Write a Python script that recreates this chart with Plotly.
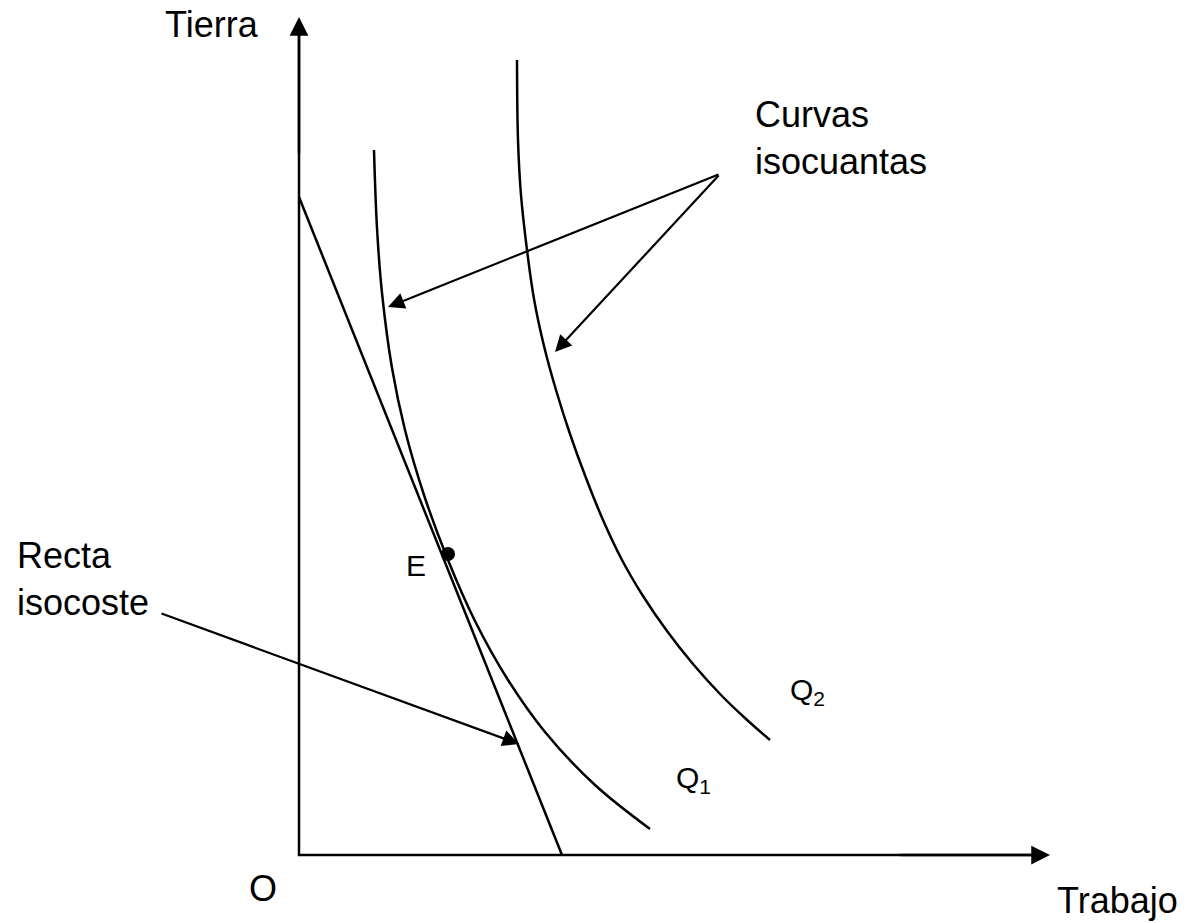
import plotly.graph_objects as go

q1_x = [75, 78, 83, 93, 106, 125, 149, 176, 209, 246, 296, 351]
q1_y = [705, 627, 562, 487, 425, 360, 295, 234, 175, 123, 70, 26]

q2_x = [218, 219, 222, 228, 235, 245, 257, 271, 287, 304, 323, 344, 368, 394, 422, 447, 471]
q2_y = [795, 715, 660, 605, 556, 509, 465, 421, 377, 335, 295, 259, 224, 191, 160, 136, 115]

iso_x = [0, 263]
iso_y = [658, 0]

e_x = [149]
e_y = [301]

axis_end_x = 751
axis_end_y = 838

FONT = "Liberation Sans, Arial, sans-serif"
LW = 2.5

fig = go.Figure()

fig.add_trace(go.Scatter(x=[0, 0, axis_end_x - 10], y=[axis_end_y - 10, 0, 0], mode="lines",
                         line=dict(color="black", width=LW), hoverinfo="skip"))
fig.add_trace(go.Scatter(x=q1_x, y=q1_y, mode="lines",
                         line=dict(color="black", width=LW, shape="spline", smoothing=1.0), hoverinfo="skip"))
fig.add_trace(go.Scatter(x=q2_x, y=q2_y, mode="lines",
                         line=dict(color="black", width=LW, shape="spline", smoothing=1.0), hoverinfo="skip"))
fig.add_trace(go.Scatter(x=iso_x, y=iso_y, mode="lines", line=dict(color="black", width=LW), hoverinfo="skip"))
fig.add_trace(go.Scatter(x=e_x, y=e_y, mode="markers", marker=dict(color="black", size=14), hoverinfo="skip"))


def arrow(tip, tail, size=1.5, width=2.2):
    fig.add_annotation(x=tip[0], y=tip[1], ax=tail[0], ay=tail[1], xref="x", yref="y",
                       axref="x", ayref="y", text="", showarrow=True, arrowhead=2,
                       arrowsize=size, arrowwidth=width, arrowcolor="black")


arrow((0, axis_end_y), (0, 700), size=1.5, width=2.5)
arrow((axis_end_x, 0), (600, 0), size=1.5, width=2.5)
arrow((89, 548), (421, 681))
arrow((256, 503), (421, 681))
arrow((220, 111), (-139, 242), size=1.5)


def label(text, x, y, size=36, xanchor="left"):
    fig.add_annotation(x=x, y=y, xref="x", yref="y", text=text, showarrow=False,
                       xanchor=xanchor, yanchor="middle", align="left",
                       font=dict(family=FONT, size=size, color="black"))


label("Tierra", -136, 831)
label("O", -52, -33)
label("Trabajo", 756, -45)
label("Recta<br>isocoste", -284, 276)
label("Curvas<br>isocuantas", 454, 717)
label("E", 105, 290, size=30)
label("Q<sub>2</sub>", 489, 164, size=30)
label("Q<sub>1</sub>", 375, 76, size=30)

fig.update_layout(
    width=1187, height=923, autosize=False,
    margin=dict(l=0, r=0, t=0, b=0),
    paper_bgcolor="white", plot_bgcolor="white",
    showlegend=False,
    xaxis=dict(range=[-299, 888], visible=False, fixedrange=True),
    yaxis=dict(range=[-68, 855], visible=False, fixedrange=True),
)

fig.write_html("out.html", config={"displayModeBar": False},
               post_script="document.body.style.margin='0';document.body.style.overflow='hidden';")
